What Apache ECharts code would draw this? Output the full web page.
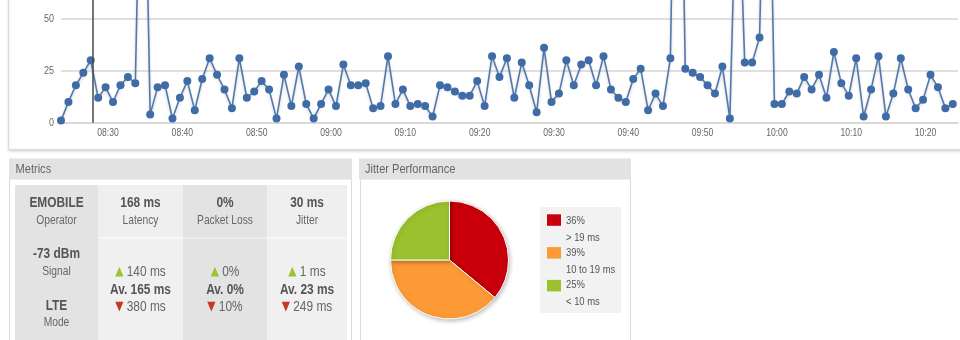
<!DOCTYPE html>
<html>
<head>
<meta charset="utf-8">
<script src="https://cdn.jsdelivr.net/npm/echarts@6/dist/echarts.min.js"></script>
<style>
  html, body { margin: 0; padding: 0; background: #fff; }
  #main { width: 960px; height: 340px; }
</style>
</head>
<body>
<div id="main"></div>
<script>
// ---- jitter samples (ms), one per minute starting at sampleStart ----
const sampleStart = '08:23:40';
const sampleStepSec = 60;
const jitterMs = [
  1, 10, 18, 24, 30, 12, 17, 10, 18, 22,
  19, 190, 4, 17, 18, 2, 12, 20, 6, 21,
  31, 23, 16, 7, 31, 12, 15, 20, 16, 2,
  23, 8, 27, 9, 2, 9, 16, 8, 28, 18,
  18, 19, 7, 8, 32, 9, 16, 8, 9, 8,
  3, 18, 17, 15, 13, 13, 20, 8, 32, 22,
  31, 12, 29, 18, 5, 36, 10, 14, 30, 18,
  28, 30, 18, 32, 16, 12, 10, 21, 26, 6,
  14, 8, 31, 240, 26, 24, 22, 18, 14, 27,
  2, 135, 29, 29, 41, 200, 9, 9, 15, 14,
  22, 16, 23, 12, 34, 19, 13, 31, 3, 16,
  32, 3, 14, 31, 16, 7, 11, 23, 17, 7,
  9
];
const timeTicks = ['08:30', '08:40', '08:50', '09:00', '09:10', '09:20',
                   '09:30', '09:40', '09:50', '10:00', '10:10', '10:20'];
const yTicks = [0, 25, 50];
const yVisibleMax = 59;
const markerTime = '08:28';

// ---- jitter distribution ----
const jitterBands = ['> 19 ms', '10 to 19 ms', '< 10 ms'];
const jitterShare = [36, 39, 25];

// ---- metrics table ----
const statusNames = ['Operator', 'Signal', 'Mode'];
const statusValues = ['EMOBILE', '-73 dBm', 'LTE'];
const kpiNames = ['Latency', 'Packet Loss', 'Jitter'];
const kpiCurrent = ['168 ms', '0%', '30 ms'];
const kpiBest = ['140 ms', '0%', '1 ms'];
const kpiAverage = ['165 ms', '0%', '23 ms'];
const kpiWorst = ['380 ms', '10%', '249 ms'];

// ---------------------------------------------------------------
// Arial-metric face squeezed horizontally to get a narrow look
const FONT = '"Liberation Sans", Arial, sans-serif';
const NARROW = 0.82;
const SYM = '"DejaVu Sans", sans-serif';
const BAND_COLORS = ['#c9000b', '#fd9a36', '#9bc22e'];

function toMinutes(hms) {
  const p = hms.split(':').map(Number);
  return p[0] * 60 + p[1] + (p[2] || 0) / 60;
}

const t0 = toMinutes(sampleStart);
const stepMin = sampleStepSec / 60;
const lineData = jitterMs.map((v, i) => [t0 + i * stepMin, v]);
const xMax = lineData[lineData.length - 1][0] + 0.7;

function box(x, y, w, h, fill, stroke, extra) {
  return Object.assign({
    type: 'rect', z: 0, silent: true,
    shape: { x: x, y: y, width: w, height: h },
    style: { fill: fill, stroke: stroke || null, lineWidth: 1 }
  }, extra || {});
}
function label(txt, x, y, size, color, weight, align, rich) {
  return {
    type: 'text', z: 5, silent: true,
    x: x, y: y, scaleX: NARROW,
    style: {
      text: txt, x: 0, y: 0,
      fill: color, font: (weight || 'normal') + ' ' + size + 'px ' + FONT,
      textAlign: align || 'center', textVerticalAlign: 'middle',
      rich: rich || undefined
    }
  };
}

const chart = echarts.init(document.getElementById('main'), null, { renderer: 'canvas' });
chart.setOption({
  animation: false,
  backgroundColor: '#fff',
  grid: { left: 61, right: 2, top: 0, bottom: 217.3, containLabel: false },
  xAxis: {
    type: 'value',
    min: t0,
    max: xMax,
    axisLine: { show: true, lineStyle: { color: '#d6d6d6', width: 1.5 } },
    axisTick: { show: false },
    splitLine: { show: false },
    axisLabel: { show: false }
  },
  yAxis: {
    type: 'value',
    min: 0,
    max: yVisibleMax,
    axisLine: { show: false },
    axisTick: { show: false, customValues: yTicks },
    splitLine: { lineStyle: { color: '#d6d6d6', width: 1.5 } },
    axisLabel: { show: false, customValues: yTicks }
  },
  series: [
    {
      type: 'line',
      data: lineData,
      symbol: 'circle',
      symbolSize: 8,
      showSymbol: true,
      showAllSymbol: true,
      clip: true,
      itemStyle: { color: '#3f6ca7' },
      lineStyle: {
        color: '#5279ae', width: 1.6,
        shadowColor: 'rgba(0,0,0,0.18)', shadowBlur: 3, shadowOffsetY: 2
      },
      emphasis: { disabled: true },
      markLine: {
        silent: true,
        symbol: 'none',
        label: { show: false },
        lineStyle: { color: '#4a4a4a', width: 1.5, type: 'solid' },
        data: [{ xAxis: toMinutes(markerTime) }]
      }
    },
    {
      type: 'pie',
      center: [449.5, 260],
      radius: 59,
      startAngle: 90,
      clockwise: true,
      label: { show: false },
      labelLine: { show: false },
      emphasis: { disabled: true },
      itemStyle: {
        borderColor: '#fff', borderWidth: 1,
        shadowBlur: 4, shadowColor: 'rgba(0,0,0,0.25)', shadowOffsetX: 1, shadowOffsetY: 1.5
      },
      data: jitterBands.map((b, i) => ({ name: b, value: jitterShare[i], itemStyle: { color: BAND_COLORS[i] } }))
    }
  ]
});

const g = [];
// chart panel frame
g.push(box(8.5, -5, 960, 154.5, '#fff', '#d9d9d9',
  { style: { fill: '#fff', stroke: '#d9d9d9', lineWidth: 1, shadowBlur: 3, shadowOffsetY: 1, shadowColor: 'rgba(0,0,0,0.15)' }, z: -2 }));

// axis tick labels placed through the grid's own coordinate mapping
const gridLeft = 61;
timeTicks.forEach(t => {
  const p = chart.convertToPixel({ gridIndex: 0 }, [toMinutes(t), 0]);
  g.push(label(t, p[0], p[1] + 10, 10.5, '#666'));
});
yTicks.forEach(v => {
  const p = chart.convertToPixel({ gridIndex: 0 }, [t0, v]);
  g.push(label(String(v), gridLeft - 7, p[1], 11, '#666', 'normal', 'right'));
});

// metrics panel
g.push(box(9.5, 179, 342, 170, '#fff', '#dcdcdc'));
g.push(box(9, 158.5, 343, 20.5, '#e2e2e2'));
g.push(label('Metrics', 15.5, 169, 13.5, '#666', 'normal', 'left'));

const colX = [15, 98, 183, 267, 347];
const rowTop = 185, rowSplit = 237.5, tableBottom = 345;
g.push(box(colX[0], rowTop, colX[1] - colX[0], tableBottom - rowTop, '#e3e3e3'));
for (let c = 1; c <= 3; c++) {
  const dark = c === 2;
  const w = colX[c + 1] - colX[c];
  g.push(box(colX[c], rowTop, w, rowSplit - rowTop, dark ? '#e3e3e3' : '#efefef'));
  g.push(box(colX[c], rowSplit + 1, w, tableBottom - rowSplit - 1, dark ? '#e3e3e3' : '#f0f0f0'));
  g.push(box(colX[c], rowSplit, w, 1, dark ? '#e9e9e9' : '#f8f8f8'));
}

const statusY = [[203, 221], [254, 272], [306, 323]];
const cx0 = (colX[0] + colX[1]) / 2;
statusNames.forEach((name, i) => {
  g.push(label(statusValues[i], cx0, statusY[i][0], 14.5, '#555', 'bold'));
  g.push(label(name, cx0, statusY[i][1], 12.5, '#666'));
});

const rich = {
  up: { fill: '#9cc432', font: '13px ' + SYM },
  dn: { fill: '#c23b1d', font: '13px ' + SYM }
};
kpiNames.forEach((name, i) => {
  const cx = (colX[i + 1] + colX[i + 2]) / 2;
  g.push(label(kpiCurrent[i], cx, 203, 14.5, '#555', 'bold'));
  g.push(label(name, cx, 221, 12.5, '#666'));
  g.push(label('{up|\u25B2} ' + kpiBest[i], cx, 272, 14.5, '#666', 'normal', 'center', rich));
  g.push(label('Av. ' + kpiAverage[i], cx, 289.5, 14.5, '#555', 'bold'));
  g.push(label('{dn|\u25BC} ' + kpiWorst[i], cx, 307, 14.5, '#666', 'normal', 'center', rich));
});

// jitter performance panel
g.push(box(360.5, 179, 270, 170, '#fff', '#dcdcdc'));
g.push(box(359, 158.5, 272, 20.5, '#e2e2e2'));
g.push(label('Jitter Performance', 365, 169, 13.5, '#666', 'normal', 'left'));

g.push(box(540, 207, 81, 106, '#f2f2f2', null, { z: 1 }));
jitterBands.forEach((band, i) => {
  g.push(box(547, 214.3 + i * 32.8, 14, 11.5, BAND_COLORS[i], null, { z: 2 }));
  g.push(label(jitterShare[i] + '%', 566, 220.7 + i * 32.2, 11.5, '#555', 'normal', 'left'));
  g.push(label(band, 566, 238.3 + i * 32, 11.5, '#555', 'normal', 'left'));
});

chart.setOption({ graphic: { elements: g } });
</script>
</body>
</html>
